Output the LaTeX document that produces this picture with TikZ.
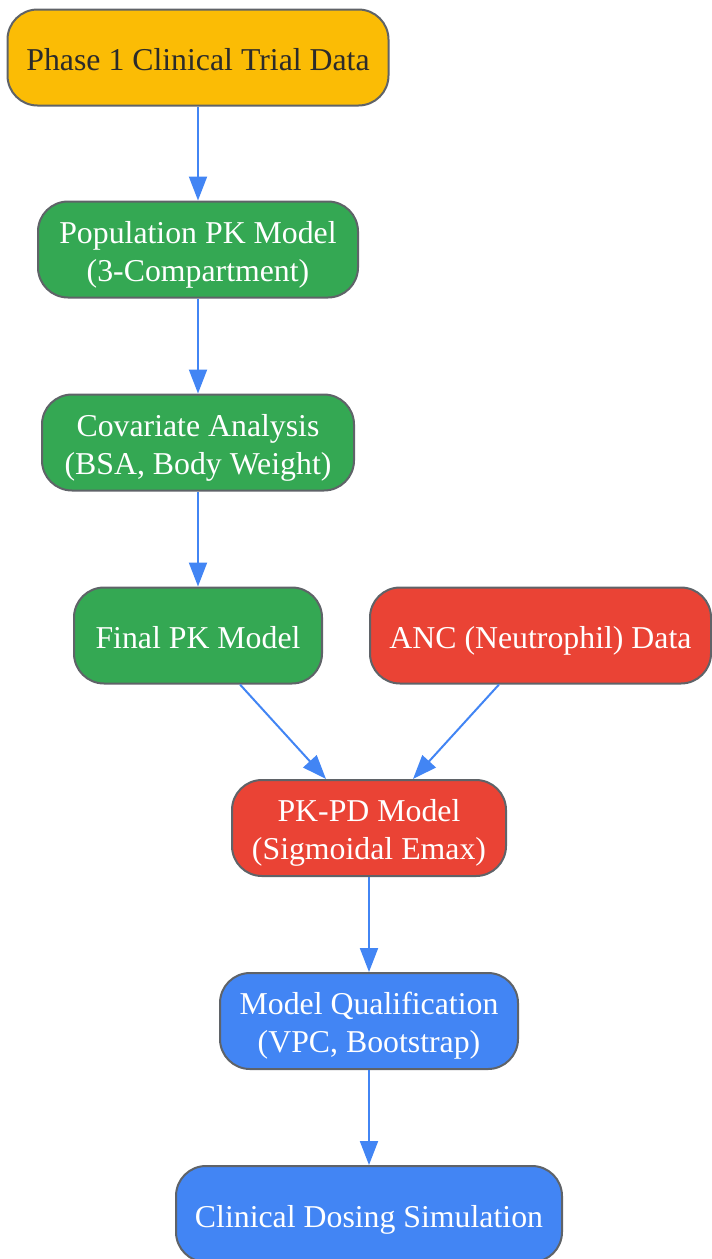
\documentclass[tikz,border=0pt]{standalone}
\usepackage{fontspec}
\setmainfont{Liberation Serif}
\usetikzlibrary{arrows.meta}
\definecolor{cyellow}{HTML}{FBBC05}
\definecolor{cgreen}{HTML}{34A853}
\definecolor{cred}{HTML}{EA4335}
\definecolor{cblue}{HTML}{4285F4}
\definecolor{cborder}{HTML}{5F6368}
\definecolor{ctext}{HTML}{2B2B2B}
\newcommand{\toprule}{\rule{0pt}{32pt}}
\newcommand{\onerule}{\rule{0pt}{26pt}}
\tikzset{
  box/.style={draw=cborder, line width=2pt, rounded corners=30pt, align=center,
    font=\fontsize{31.8}{38}\selectfont, text=white, inner sep=0pt, minimum height=96pt},
  oneline/.style={text depth=0pt},
  conn/.style={draw=cblue, line width=2pt, -{Triangle[length=24pt,width=18pt]}}
}
\begin{document}
\begin{tikzpicture}[x=1pt,y=-1pt]
\useasboundingbox (0,0) rectangle (712,1259);
\node[box, oneline, fill=cyellow, text=ctext, minimum width=381pt] (a) at (198,57.5) {\onerule Phase 1 Clinical Trial Data};
\node[box, fill=cgreen, minimum width=320pt] (b) at (198,249.5) {\toprule Population PK Model\\(3-Compartment)};
\node[box, fill=cgreen, minimum width=312pt] (c) at (198,442.5) {\toprule Covariate Analysis\\(BSA, Body Weight)};
\node[box, oneline, fill=cgreen, minimum width=248pt] (d) at (198,635.5) {\onerule Final PK Model};
\node[box, oneline, fill=cred, minimum width=341pt] (e) at (540.5,635.5) {\onerule ANC (Neutrophil) Data};
\node[box, fill=cred, minimum width=274pt] (f) at (369,828) {\toprule PK-PD Model\\(Sigmoidal Emax)};
\node[box, fill=cblue, minimum width=298pt] (g) at (369,1021) {\toprule Model Qualification\\(VPC, Bootstrap)};
\node[box, oneline, fill=cblue, minimum width=386pt] (h) at (369,1214) {\onerule Clinical Dosing Simulation};
\draw[conn] (a) -- (b);
\draw[conn] (b) -- (c);
\draw[conn] (c) -- (d);
\draw[conn] (d.south -| 240,0) -- (f.north -| 326,0);
\draw[conn] (e.south -| 499,0) -- (f.north -| 413,0);
\draw[conn] (f) -- (g);
\draw[conn] (g) -- (h);
\end{tikzpicture}
\end{document}
